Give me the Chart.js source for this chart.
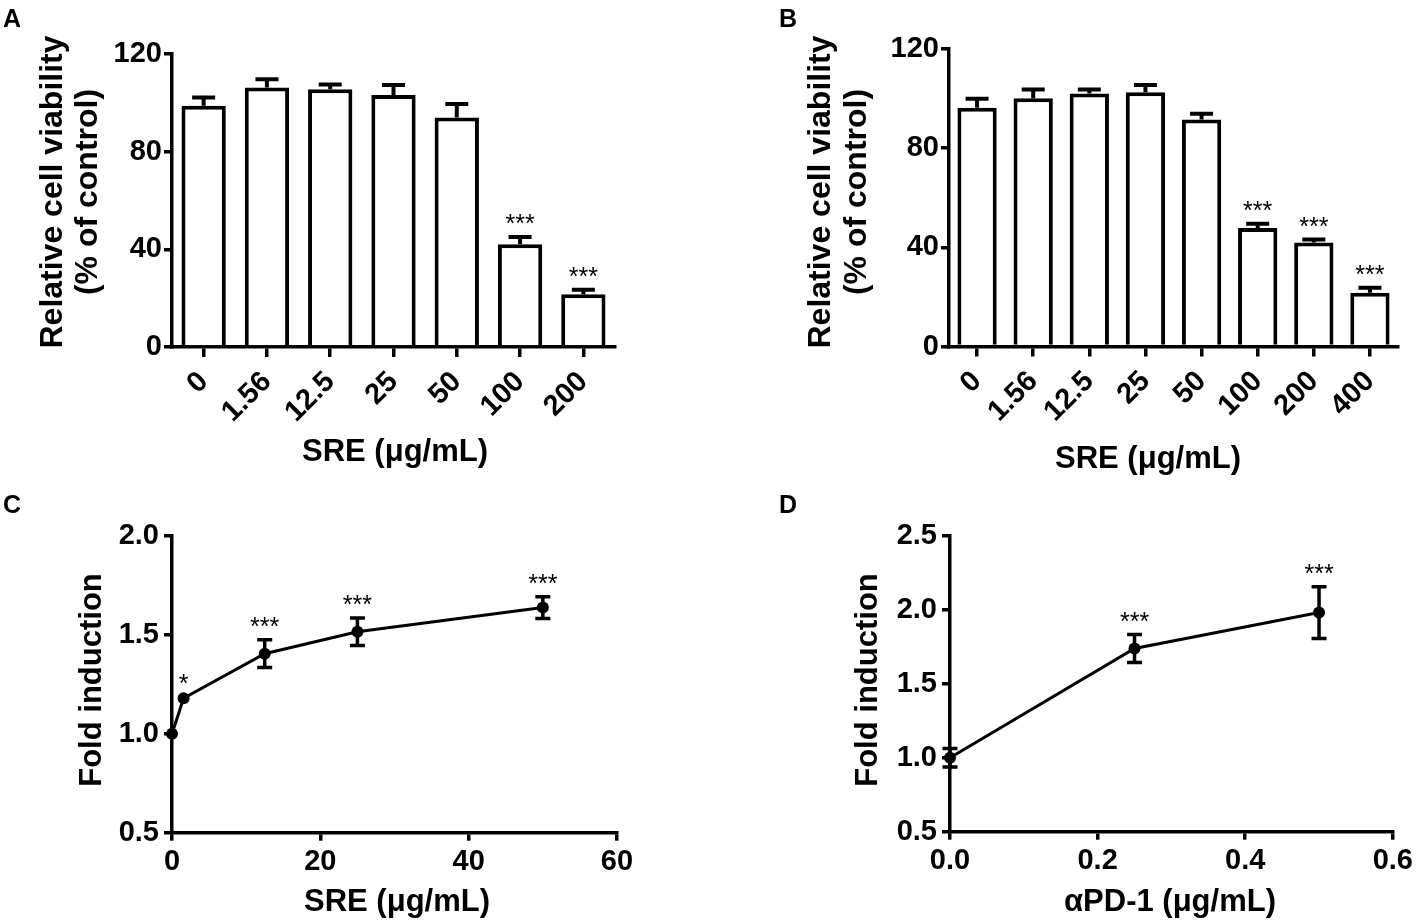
<!DOCTYPE html>
<html lang="en">
<head>
  <meta charset="UTF-8">
  <title>SRE cell viability and fold induction</title>
  <script src="https://cdn.jsdelivr.net/npm/chart.js"></script>
  <style>
    html, body { margin: 0; padding: 0; background: #fff; }
    #figure { position: relative; width: 1417px; height: 923px; overflow: hidden; }
    #figure canvas { position: absolute; }
  </style>
</head>
<body>
  <div id="figure">
    <canvas id="panelA" width="708" height="480" style="left:0;top:0"></canvas>
    <canvas id="panelB" width="709" height="480" style="left:708px;top:0"></canvas>
    <canvas id="panelC" width="708" height="453" style="left:0;top:470px"></canvas>
    <canvas id="panelD" width="709" height="453" style="left:708px;top:470px"></canvas>
  </div>

  <script>
    // Panel A - viability, 7 doses
    const aLabels = ['0', '1.56', '12.5', '25', '50', '100', '200'];
    const aMeans = [98.8, 106.3, 105.6, 103.2, 94.0, 42.1, 21.6];
    const aErrs = [3.4, 3.4, 1.9, 4.1, 5.5, 3.0, 1.8];
    const aStars = ['', '', '', '', '', '***', '***'];

    // Panel B - viability, 8 doses
    const bLabels = ['0', '1.56', '12.5', '25', '50', '100', '200', '400'];
    const bMeans = [96.3, 100.1, 102.1, 102.6, 91.6, 47.8, 41.9, 21.7];
    const bErrs = [3.6, 3.6, 1.6, 2.9, 2.3, 1.7, 1.3, 2.0];
    const bStars = ['', '', '', '', '', '***', '***', '***'];

    // Panel C - fold induction vs SRE
    const cDoses = [0, 1.56, 12.5, 25, 50];
    const cMeans = [1.0, 1.18, 1.405, 1.516, 1.638];
    const cErrs = [0, 0.01, 0.07, 0.07, 0.055];
    const cStars = ['', '*', '***', '***', '***'];

    // Panel D - fold induction vs aPD-1
    const dDoses = [0, 0.25, 0.5];
    const dMeans = [1.0, 1.739, 1.982];
    const dErrs = [0.063, 0.095, 0.175];
    const dStars = ['', '***', '***'];

    const FAMILY = '"Liberation Sans", Arial, Helvetica, sans-serif';
    const POINT_R = 6;

    // error bars + significance stars
    function makeMarks(means, errs, stars, both, cap, width) {
      return {
        id: 'marks',
        afterDatasetsDraw(chart) {
          const ctx = chart.ctx;
          const yScale = chart.scales.y;
          const pts = chart.getDatasetMeta(0).data;
          ctx.save();
          ctx.strokeStyle = '#000';
          ctx.fillStyle = '#000';
          ctx.lineWidth = width;
          pts.forEach((el, i) => {
            const x = el.x;
            const yTop = yScale.getPixelForValue(means[i] + errs[i]);
            const yBot = yScale.getPixelForValue(both ? means[i] - errs[i] : means[i]);
            // symmetric bars shorter than the symbol stay hidden behind it
            const visible = errs[i] > 0 && (!both || Math.abs(yBot - yTop) / 2 > POINT_R);
            if (visible) {
              ctx.beginPath();
              ctx.moveTo(x, yBot);
              ctx.lineTo(x, yTop);
              ctx.moveTo(x - cap / 2, yTop);
              ctx.lineTo(x + cap / 2, yTop);
              if (both) {
                ctx.moveTo(x - cap / 2, yBot);
                ctx.lineTo(x + cap / 2, yBot);
              }
              ctx.stroke();
            }
            if (stars[i]) {
              ctx.font = '25px ' + FAMILY;
              ctx.textAlign = 'center';
              ctx.textBaseline = 'alphabetic';
              ctx.fillText(stars[i], x, yTop - 19 + 0.58 * 25);
            }
          });
          ctx.restore();
        }
      };
    }

    // panel letter and axis titles
    function makeText(items) {
      return {
        id: 'panelText',
        afterDraw(chart) {
          const ctx = chart.ctx;
          items.forEach(t => {
            ctx.save();
            ctx.fillStyle = '#000';
            ctx.font = 'bold ' + t.size + 'px ' + FAMILY;
            ctx.textAlign = t.align || 'center';
            ctx.textBaseline = t.base || 'middle';
            ctx.translate(t.x, t.y);
            if (t.rot) ctx.rotate(t.rot);
            ctx.fillText(t.text, 0, 0);
            ctx.restore();
          });
        }
      };
    }

    function fixWidth(w) { return scale => { scale.width = w; }; }
    function fixHeight(h) { return scale => { scale.height = h; }; }

    function axisStyle(tickSize, tickLen, pad) {
      return {
        border: { display: true, color: '#000', width: 3.5 },
        grid: { display: true, drawOnChartArea: false, drawTicks: true, tickLength: tickLen, lineWidth: 3.5, color: '#000' },
        ticks: { color: '#000', padding: pad, font: { family: FAMILY, weight: 'bold', size: tickSize } }
      };
    }

    function barChart(id, labels, means, errs, stars, box, texts) {
      const xAxis = axisStyle(29, 10, 8);
      xAxis.grid.offset = false;
      xAxis.ticks.minRotation = 45;
      xAxis.ticks.maxRotation = 45;
      xAxis.ticks.autoSkip = false;
      xAxis.afterFit = fixHeight(box.xh);
      const yAxis = axisStyle(29, 8, 2);
      yAxis.min = 0;
      yAxis.max = 120;
      yAxis.ticks.stepSize = 40;
      yAxis.afterFit = fixWidth(box.yw);
      return new Chart(document.getElementById(id), {
        type: 'bar',
        data: {
          labels: labels,
          datasets: [{
            data: means,
            backgroundColor: '#fff',
            borderColor: '#000',
            borderWidth: 4,
            barPercentage: 0.7,
            categoryPercentage: 1.0
          }]
        },
        options: {
          responsive: false,
          animation: false,
          layout: { padding: { top: box.top, right: box.right, left: 0, bottom: 0 } },
          plugins: { legend: { display: false }, tooltip: { enabled: false } },
          scales: { x: xAxis, y: yAxis }
        },
        plugins: [makeMarks(means, errs, stars, false, 23, 4), makeText(texts)]
      });
    }

    function lineChart(id, doses, means, errs, stars, box, xr, yr, texts) {
      const xAxis = axisStyle(29, 8, 4);
      xAxis.type = 'linear';
      xAxis.min = xr[0];
      xAxis.max = xr[1];
      xAxis.ticks.stepSize = xr[2];
      xAxis.ticks.callback = v => v.toFixed(xr[3]);
      xAxis.afterFit = fixHeight(box.xh);
      const yAxis = axisStyle(29, 8, 5);
      yAxis.min = yr[0];
      yAxis.max = yr[1];
      yAxis.ticks.stepSize = 0.5;
      yAxis.ticks.callback = v => v.toFixed(1);
      yAxis.afterFit = fixWidth(box.yw);
      return new Chart(document.getElementById(id), {
        type: 'line',
        data: {
          datasets: [{
            data: doses.map((d, i) => ({ x: d, y: means[i] })),
            borderColor: '#000',
            borderWidth: 3,
            pointRadius: POINT_R,
            pointBackgroundColor: '#000',
            pointBorderColor: '#000',
            pointBorderWidth: 0,
            tension: 0,
            clip: false
          }]
        },
        options: {
          responsive: false,
          animation: false,
          layout: { padding: { top: box.top, right: box.right, left: 0, bottom: 0 } },
          plugins: { legend: { display: false }, tooltip: { enabled: false } },
          scales: { x: xAxis, y: yAxis }
        },
        plugins: [makeMarks(means, errs, stars, true, 15, 3.5), makeText(texts)]
      });
    }

    const UP = -Math.PI / 2;

    barChart('panelA', aLabels, aMeans, aErrs, aStars,
      { yw: 172, xh: 133, top: 54, right: 93 },
      [
        { text: 'A', x: 3, y: 8, size: 25, align: 'left', base: 'top' },
        { text: 'Relative cell viability', x: 53, y: 192, size: 32, rot: UP },
        { text: '(% of control)', x: 88, y: 192, size: 32, rot: UP },
        { text: 'SRE (\u03bcg/mL)', x: 395, y: 452, size: 31 }
      ]);

    barChart('panelB', bLabels, bMeans, bErrs, bStars,
      { yw: 241, xh: 133.5, top: 49, right: 19 },
      [
        { text: 'B', x: 71, y: 8, size: 25, align: 'left', base: 'top' },
        { text: 'Relative cell viability', x: 113, y: 192, size: 32, rot: UP },
        { text: '(% of control)', x: 149, y: 192, size: 32, rot: UP },
        { text: 'SRE (\u03bcg/mL)', x: 440, y: 459, size: 31 }
      ]);

    lineChart('panelC', cDoses, cMeans, cErrs, cStars,
      { yw: 172, xh: 90.3, top: 66, right: 91 },
      [0, 60, 20, 0], [0.5, 2.0],
      [
        { text: 'C', x: 3, y: 24, size: 25, align: 'left', base: 'top' },
        { text: 'Fold induction', x: 92, y: 210, size: 31, rot: UP },
        { text: 'SRE (\u03bcg/mL)', x: 397, y: 432, size: 31 }
      ]);

    lineChart('panelD', dDoses, dMeans, dErrs, dStars,
      { yw: 242, xh: 91.3, top: 66, right: 22 },
      [0, 0.6, 0.2, 1], [0.5, 2.5],
      [
        { text: 'D', x: 71, y: 24, size: 25, align: 'left', base: 'top' },
        { text: 'Fold induction', x: 160, y: 210, size: 31, rot: UP },
        { text: '\u03b1PD-1 (\u03bcg/mL)', x: 462, y: 432, size: 31 }
      ]);
  </script>
</body>
</html>
